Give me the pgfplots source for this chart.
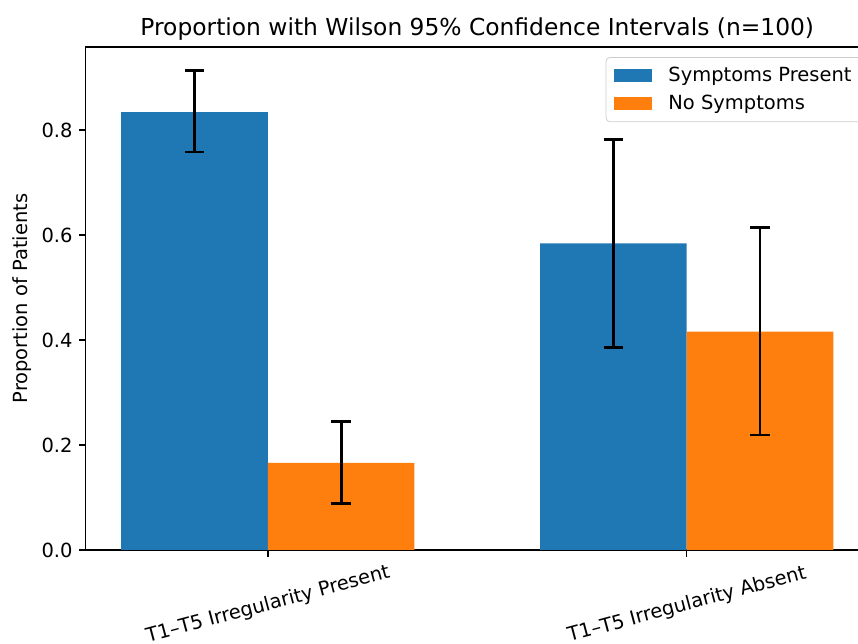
\documentclass[border=0pt]{standalone}
\usepackage{pgfplots}
\pgfplotsset{compat=1.18}
\usepackage{fontspec}
\setmainfont{DejaVu Sans}
\definecolor{mplblue}{HTML}{1F77B4}
\definecolor{mplorange}{HTML}{FF7F0E}
\begin{document}
\begin{tikzpicture}
\begin{axis}[
  at={(0,0)}, anchor=south west,
  scale only axis,
  width=421.2pt, height=270.4pt,
  xmin=-0.435, xmax=1.435,
  ymin=0, ymax=0.958,
  ybar, bar shift=0pt, bar width=0.35,
  xtick={0,1},
  xticklabels={T1–T5 Irregularity Present, T1–T5 Irregularity Absent},
  xticklabel style={rotate=15, anchor=center, xshift=-6.6pt, yshift=-25.2pt},
  ytick={0,0.2,0.4,0.6,0.8},
  yticklabel style={/pgf/number format/fixed, /pgf/number format/precision=1, /pgf/number format/fixed zerofill},
  /pgf/number format/assume math mode=true,
  tick align=outside,
  major tick length=3.5pt,
  xtick pos=bottom, ytick pos=left,
  every tick/.style={black, line width=0.8pt},
  axis line style={black, line width=0.8pt},
  tick label style={font=\fontsize{10.47}{12.5}\selectfont},
  label style={font=\fontsize{10.47}{12.5}\selectfont},
  ylabel={Proportion of Patients},
  ylabel style={at={([xshift=-34.1pt]axis description cs:0,0.5)}, anchor=center},
  title={Proportion with Wilson 95\% Confidence Intervals (n=100)},
  title style={font=\fontsize{12.56}{15}\selectfont, at={(axis description cs:0.5,1)}, anchor=base},
  legend style={at={(axis description cs:0.664,0.98)}, anchor=north west,
    draw=black!20, rounded corners=2pt, fill=white, fill opacity=0.8, draw opacity=1, text opacity=1,
    font=\fontsize{10.47}{12.5}\selectfont, row sep=2pt, column sep=7pt, inner xsep=4pt, inner ysep=3pt},
  legend cell align=left,
  legend image code/.code={\fill[#1, fill opacity=1, sharp corners] (0pt,-3.4pt) rectangle (20.5pt,3.4pt);},
  error bars/y dir=both, error bars/y explicit,
  error bars/error bar style={black, line width=1.5pt},
  error bars/error mark options={black, rotate=90, line width=1.5pt, mark size=5.2pt},
]
\addplot[fill=mplblue, draw=none] coordinates {
  (-0.175,0.834) += (0,0.079) -= (0,0.076)
  (0.825,0.584) += (0,0.198) -= (0,0.198)
};
\addlegendentry{Symptoms Present}
\addplot[fill=mplorange, draw=none] coordinates {
  (0.175,0.166) += (0,0.078) -= (0,0.078)
  (1.175,0.416) += (0,0.198) -= (0,0.197)
};
\addlegendentry{No Symptoms}
\end{axis}
\pgfresetboundingbox
\path[use as bounding box] (-46.0pt,-50.5pt) rectangle (415.3pt,295.7pt);
\end{tikzpicture}
\end{document}
